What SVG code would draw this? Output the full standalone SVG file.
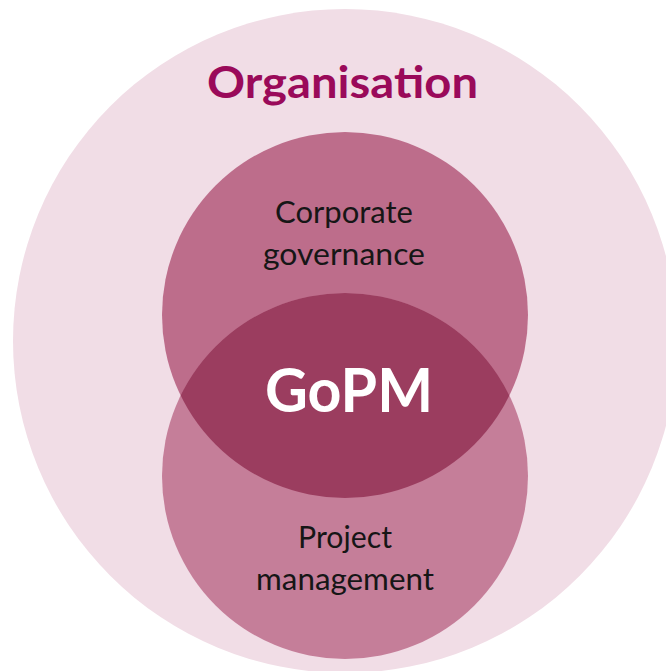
<svg xmlns="http://www.w3.org/2000/svg" width="666" height="671" viewBox="0 0 666 671">
<style>
.lbl{font-family:Lato,"Open Sans","DejaVu Sans",sans-serif;font-size:30px;fill:#161616;text-anchor:middle}
.title{font-family:Lato,"Open Sans","DejaVu Sans",sans-serif;font-size:44px;font-weight:bold;fill:#9a0a5a;text-anchor:middle}
.core{font-family:Lato,"Open Sans","DejaVu Sans",sans-serif;font-size:61px;font-weight:bold;fill:#ffffff;text-anchor:middle}
</style>
<defs>
<clipPath id="topClip"><circle cx="345" cy="315" r="183"/></clipPath>
</defs>
<rect width="666" height="671" fill="#ffffff"/>
<g id="organisation">
<circle cx="345" cy="341" r="332" fill="#f1dde6"/>
<text class="title" x="342.5" y="98" textLength="271" lengthAdjust="spacingAndGlyphs">Organisation</text>
</g>
<g id="corporate-governance">
<circle cx="345" cy="315" r="183" fill="#bd6d8b"/>
<text class="lbl" x="344" y="223" textLength="138" lengthAdjust="spacingAndGlyphs">Corporate</text>
<text class="lbl" x="344" y="265" textLength="162" lengthAdjust="spacingAndGlyphs">governance</text>
</g>
<g id="project-management">
<circle cx="345" cy="476" r="183" fill="#c57e99"/>
<text class="lbl" x="345" y="548" textLength="94" lengthAdjust="spacingAndGlyphs">Project</text>
<text class="lbl" x="345" y="590" textLength="178" lengthAdjust="spacingAndGlyphs">management</text>
</g>
<g id="gopm">
<circle cx="345" cy="476" r="183" fill="#9b3d5f" clip-path="url(#topClip)"/>
<text class="core" x="349" y="412" textLength="168" lengthAdjust="spacingAndGlyphs">GoPM</text>
</g>
<g id="connectors"/>
</svg>
